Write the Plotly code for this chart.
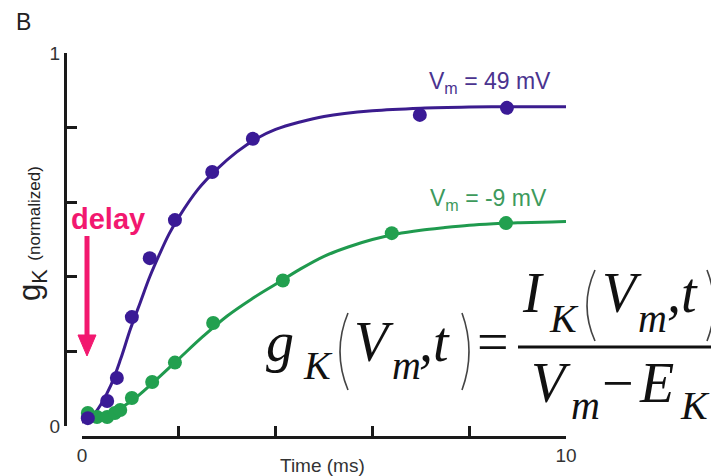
import plotly.graph_objects as go

W, H = 711, 476

# ---------------- data ----------------
t_49_pts = [0.12, 0.52, 0.72, 1.03, 1.40, 1.92, 2.69, 3.53, 6.98, 8.78]
g_49_pts = [0.021, 0.067, 0.129, 0.292, 0.450, 0.552, 0.681, 0.770, 0.834, 0.853]

t_49_fit = [0.0, 0.2, 0.4, 0.6, 0.8, 1.0, 1.2, 1.4, 1.6, 1.8, 2.0, 2.4, 2.8, 3.2, 3.6,
            4.0, 4.5, 5.0, 6.0, 7.0, 8.0, 9.0, 10.0]
g_49_fit = [0.01, 0.025, 0.06, 0.11, 0.18, 0.26, 0.33, 0.40, 0.46, 0.515, 0.56, 0.635,
            0.69, 0.735, 0.77, 0.795, 0.815, 0.83, 0.845, 0.852, 0.855, 0.856, 0.856]

t_m9_pts = [0.12, 0.31, 0.52, 0.68, 0.79, 1.03, 1.45, 1.92, 2.71, 4.15, 6.40, 8.76]
g_m9_pts = [0.035, 0.024, 0.024, 0.035, 0.043, 0.075, 0.118, 0.170, 0.276, 0.390, 0.517, 0.544]

t_m9_fit = [0.0, 0.5, 1.0, 1.5, 2.0, 2.5, 3.0, 3.5, 4.0, 4.5, 5.0, 5.5, 6.0, 6.5,
            7.0, 7.5, 8.0, 8.5, 9.0, 9.5, 10.0]
g_m9_fit = [0.02, 0.03, 0.065, 0.12, 0.18, 0.24, 0.295, 0.34, 0.38, 0.42, 0.455, 0.48,
            0.50, 0.515, 0.525, 0.532, 0.538, 0.542, 0.545, 0.546, 0.548]

x_label_ticks = [0, 10]
x_label_text = ["0", "10"]
x_minor_ticks = [2, 4, 6, 8]
y_label_ticks = [0, 1]
y_label_text = ["0", "1"]
y_minor_ticks = [0.2, 0.4, 0.6, 0.8]

label_49 = "V<sub>m</sub> = 49 mV"
label_m9 = "V<sub>m</sub> = -9 mV"

PURPLE = "#3b1c8e"
GREEN = "#1f9a4e"
PINK = "#f2186f"
AXIS = "#1a1a1a"

def px(x):
    return x / W

def py(y):
    return 1 - y / H

fig = go.Figure()
fig.add_trace(go.Scatter(x=t_49_fit, y=g_49_fit, mode="lines",
                         line=dict(color=PURPLE, width=3, shape="spline"),
                         hoverinfo="skip", showlegend=False))
fig.add_trace(go.Scatter(x=t_m9_fit, y=g_m9_fit, mode="lines",
                         line=dict(color=GREEN, width=3, shape="spline"),
                         hoverinfo="skip", showlegend=False))
fig.add_trace(go.Scatter(x=t_m9_pts, y=g_m9_pts, mode="markers",
                         marker=dict(color="#22a04f", size=14), cliponaxis=False,
                         showlegend=False))
fig.add_trace(go.Scatter(x=t_49_pts, y=g_49_pts, mode="markers",
                         marker=dict(color="#3a1a96", size=14), cliponaxis=False,
                         showlegend=False))

SANS = "Liberation Sans"
SERIF = "Liberation Serif"

axis_common = dict(showline=True, linewidth=3, linecolor=AXIS, ticks="inside", ticklen=10,
                   tickwidth=3, tickcolor=AXIS, showgrid=False, zeroline=False,
                   automargin=False, tickfont=dict(size=19, color="#333333"))

fig.update_layout(
    template="none",
    width=W, height=H,
    margin=dict(l=0, r=0, t=0, b=0, autoexpand=False),
    paper_bgcolor="white", plot_bgcolor="white",
    showlegend=False,
    font=dict(family=SANS, color="#333333"),
    xaxis=dict(domain=[px(82), px(566)], range=[0, 10], anchor="free", position=py(437),
               tickmode="array", tickvals=x_label_ticks, ticktext=x_label_text,
               minor=dict(tickmode="array", tickvals=x_minor_ticks, ticks="inside",
                          ticklen=10, tickwidth=3, tickcolor=AXIS, showgrid=False),
               **axis_common),
    yaxis=dict(domain=[py(426), py(53)], range=[0, 1], anchor="free", position=px(65),
               tickmode="array", tickvals=y_label_ticks, ticktext=y_label_text,
               minor=dict(tickmode="array", tickvals=y_minor_ticks, ticks="inside",
                          ticklen=10, tickwidth=3, tickcolor=AXIS, showgrid=False),
               **axis_common),
)

ann = []
def text(x, y, s, size, family=SANS, color="#222222", xanchor="center", yanchor="middle",
         angle=0):
    ann.append(dict(x=px(x), y=py(y), xref="paper", yref="paper", text=s,
                    showarrow=False, xanchor=xanchor, yanchor=yanchor, textangle=angle,
                    borderpad=0, font=dict(family=family, size=size, color=color)))

# panel letter, axis title, series labels
text(24, 22, "B", 23)
text(322, 465, "Time (ms)", 19, color="#333333")
text(32, 234, "g<sub>K</sub> <span style='font-size:17px'>(normalized)</span>", 31,
     color="#222222", angle=-90)
text(490, 82, label_49, 23, color="#4a338f")
text(488, 199, label_m9, 23, color="#3d9a5c")
text(108, 219, "<b>delay</b>", 29, color=PINK)

# formula pieces: (x_left, baseline, text, size)
S, s = 56, 40
def ftxt(x, base, t, size):
    ann.append(dict(x=px(x), y=py(base + 0.216 * size), xref="paper", yref="paper",
                    text=t, showarrow=False, xanchor="left", yanchor="bottom",
                    borderpad=0, font=dict(family=SERIF, size=size, color="#111111")))

ftxt(265, 362, "<i>g</i>", S)
ftxt(302, 380, "<i>K</i>", s)
ftxt(353, 362, "<i>V</i>", S)
ftxt(391, 380, "<i>m</i>", s)
ftxt(418, 362, "<i>,t</i>", S)
ftxt(476, 362, "=", S)
ftxt(521, 313, "<i>I</i>", S)
ftxt(548, 333, "<i>K</i>", s)
ftxt(601, 313, "<i>V</i>", S)
ftxt(637, 333, "<i>m</i>", s)
ftxt(666, 313, "<i>,t</i>", S)
ftxt(530, 403, "<i>V</i>", S)
ftxt(570, 420, "<i>m</i>", s)
ftxt(601, 403, "\u2212", S)
ftxt(638, 403, "<i>E</i>", S)
ftxt(679, 420, "<i>K</i>", s)

fig.update_layout(annotations=ann)

shapes = []
def paren(x_end, x_mid, y1, y2):
    xc = 2 * x_mid - x_end
    path = "M {:.5f},{:.5f} Q {:.5f},{:.5f} {:.5f},{:.5f}".format(
        px(x_end), py(y1), px(xc), py((y1 + y2) / 2), px(x_end), py(y2))
    shapes.append(dict(type="path", path=path, xref="paper", yref="paper",
                       line=dict(color="#444444", width=1.6)))

paren(348, 340, 313, 390)
paren(462, 469, 313, 390)
paren(595, 587, 270, 341)
paren(707, 714, 270, 341)

# fraction bar
shapes.append(dict(type="line", xref="paper", yref="paper", x0=px(518), x1=px(720),
                   y0=py(347), y1=py(347), line=dict(color="#111111", width=3)))
# delay arrow
shapes.append(dict(type="line", xref="paper", yref="paper", x0=px(87), x1=px(87),
                   y0=py(236), y1=py(338), line=dict(color=PINK, width=5)))
shapes.append(dict(type="path", xref="paper", yref="paper",
                   path="M {:.5f},{:.5f} L {:.5f},{:.5f} L {:.5f},{:.5f} Z".format(
                       px(78), py(335), px(96), py(335), px(87), py(356)),
                   fillcolor=PINK, line=dict(color=PINK, width=1)))
fig.update_layout(shapes=shapes)

fig.write_html("out.html", config={"displayModeBar": False},
               post_script="document.body.style.margin='0';document.body.style.overflow='hidden';")
